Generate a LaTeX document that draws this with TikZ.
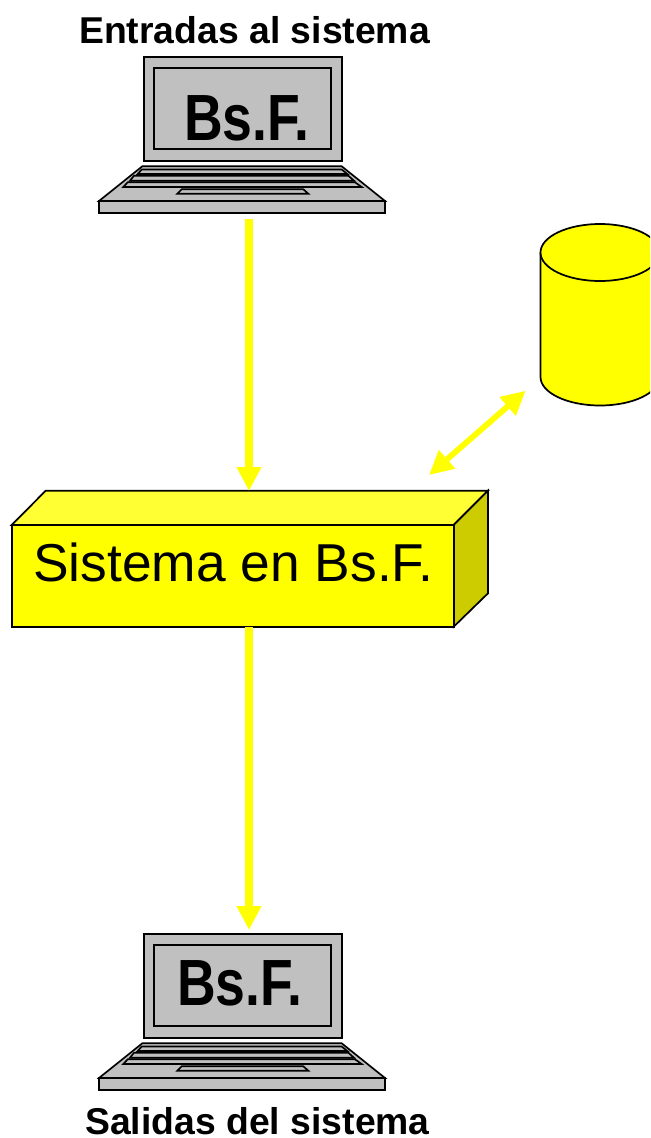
\documentclass[tikz,border=0pt]{standalone}
\usepackage{fontspec}
\setmainfont{Liberation Sans}
\usetikzlibrary{arrows.meta}
\definecolor{amarillo}{RGB}{255,255,0}
\definecolor{gristeclado}{HTML}{C0C0C0}
\definecolor{amarillotapa}{HTML}{FFFF33}
\definecolor{amarillolado}{HTML}{CCCC00}
\tikzset{
  equipo/.style={draw=black,fill=gristeclado,line width=1.25pt,line join=miter},
  cara/.style={draw=black,line width=1.3pt,line join=miter},
  flecha/.style={draw=amarillo,line width=6pt,-{Triangle[length=18pt,width=17.5pt]}},
  flechadoble/.style={draw=amarillo,line width=4.4pt,{Triangle[length=18pt,width=17.5pt]}-{Triangle[length=18pt,width=17.5pt]}},
  titulo/.style={font=\fontsize{28pt}{30pt}\selectfont\bfseries,inner sep=0pt,anchor=base west},
  moneda/.style={font=\fontsize{49pt}{52pt}\selectfont\bfseries,inner sep=0pt,anchor=base west,xscale=0.82,transform shape},
  rotulo/.style={font=\fontsize{40pt}{42pt}\selectfont,inner sep=0pt,anchor=base west}
}
\begin{document}
\begin{tikzpicture}[x=0.75pt,y=-0.75pt]
  \pgfmathsetmacro\voff{877}    % distance between the two laptops
  \pgfmathsetmacro\cylx{600}    % centre of database
  \pgfmathsetmacro\cylrx{59.5}
  \pgfmathsetmacro\cylry{28.5}

  \useasboundingbox (0,0) rectangle (650,1138);
  \clip (0,0) rectangle (650,1138);

% titles
  \node[titulo] (entradas) at (79,43.7) {Entradas al sistema};
  \node[titulo] (salidas) at (85,1134) {Salidas del sistema};

% upper laptop
  \draw[equipo] (144,56.7) rectangle (341.7,161);
  \draw[equipo] (154.3,68) rectangle (330.7,149);
  \draw[equipo] (142.3,166.3) -- (341.7,166.3) -- (385,201) -- (99,201) -- cycle;
  \draw[equipo] (99,201) rectangle (385,213.3);
  \draw[equipo] (141.7,169.5) -- (341.7,169.5) -- (347.3,174) -- (137.7,174) -- cycle;
  \draw[equipo] (134,175.7) -- (348.3,175.7) -- (354,180.7) -- (130,180.7) -- cycle;
  \draw[equipo] (127.7,182.3) -- (355,182.3) -- (361.7,187) -- (123.3,187) -- cycle;
  \draw[equipo] (181.7,189.3) -- (303.3,189.3) -- (308.3,193.7) -- (177.3,193.7) -- cycle;
  \node[moneda] (monedaE) at (184,140) {Bs.F.};

% lower laptop
  \draw[equipo,shift={(0,\voff)}] (144,56.7) rectangle (341.7,161);
  \draw[equipo,shift={(0,\voff)}] (154.3,68) rectangle (330.7,149);
  \draw[equipo,shift={(0,\voff)}] (142.3,166.3) -- (341.7,166.3) -- (385,201) -- (99,201) -- cycle;
  \draw[equipo,shift={(0,\voff)}] (99,201) rectangle (385,213.3);
  \draw[equipo,shift={(0,\voff)}] (141.7,169.5) -- (341.7,169.5) -- (347.3,174) -- (137.7,174) -- cycle;
  \draw[equipo,shift={(0,\voff)}] (134,175.7) -- (348.3,175.7) -- (354,180.7) -- (130,180.7) -- cycle;
  \draw[equipo,shift={(0,\voff)}] (127.7,182.3) -- (355,182.3) -- (361.7,187) -- (123.3,187) -- cycle;
  \draw[equipo,shift={(0,\voff)}] (181.7,189.3) -- (303.3,189.3) -- (308.3,193.7) -- (177.3,193.7) -- cycle;
  \node[moneda] (monedaS) at (177,1005) {Bs.F.};

% system block
  \draw[cara,fill=amarillotapa] (11.7,525) -- (45.7,490.7) -- (488,490.7) -- (453.7,525) -- cycle;
  \draw[cara,fill=amarillolado] (453.7,525) -- (488,490.7) -- (488,593.3) -- (453.7,626.7) -- cycle;
  \draw[cara,fill=amarillo] (11.7,525) rectangle (453.7,626.7);
  \node[rotulo] (sistema) at (33,581) {Sistema en Bs.F.};

% database
  \draw[cara,fill=amarillo] (\cylx-\cylrx,252.5) -- (\cylx-\cylrx,377)
      arc [start angle=180,end angle=0,x radius=\cylrx,y radius=\cylry]
      -- (\cylx+\cylrx,252.5);
  \draw[cara,fill=amarillo] (\cylx,252.5) ellipse [x radius=\cylrx,y radius=\cylry];

% connectors
  \coordinate (salidaE) at (249,219);
  \coordinate (llegadaE) at (249,491);
  \coordinate (salidaS) at (249,627);
  \coordinate (llegadaS) at (249,930);
  \coordinate (puertoB) at (525.7,390.7);
  \coordinate (puertoS) at (429,475);
  \draw[flecha] (salidaE) -- (llegadaE);
  \draw[flecha] (salidaS) -- (llegadaS);
  \draw[flechadoble] (puertoS) -- (puertoB);
\end{tikzpicture}
\end{document}
